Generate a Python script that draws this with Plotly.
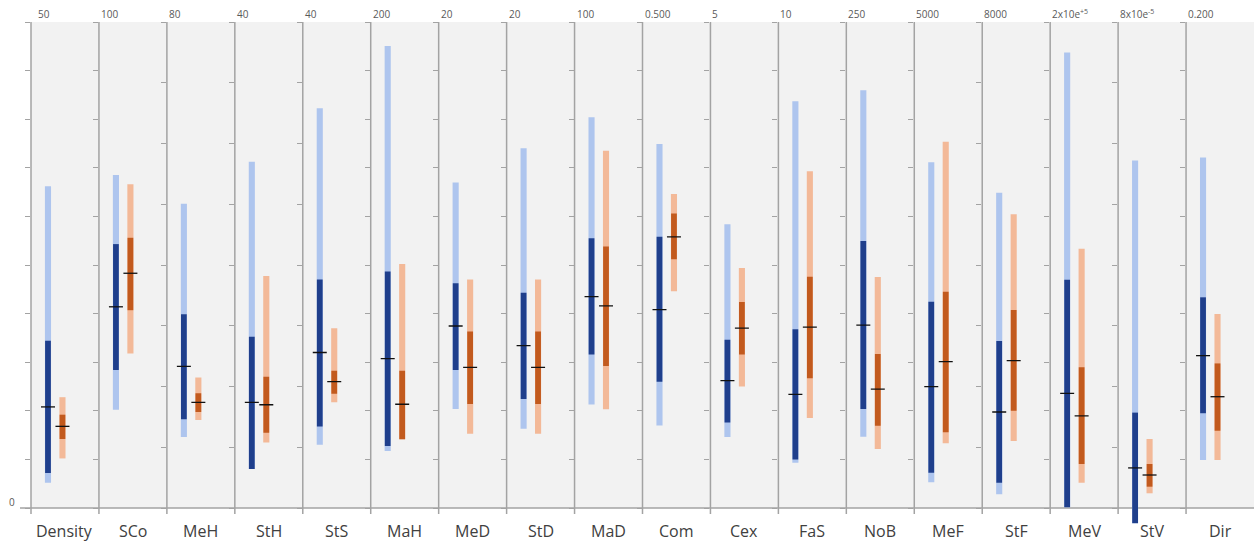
import plotly.graph_objects as go
from plotly.subplots import make_subplots

# Variables, one panel each
categories = ["Density", "SCo", "MeH", "StH", "StS", "MaH", "MeD", "StD", "MaD",
              "Com", "Cex", "FaS", "NoB", "MeF", "StF", "MeV", "StV", "Dir"]

# Upper limit of each panel's vertical scale and its printed label
axis_max = [50, 100, 80, 40, 40, 200, 20, 20, 100, 0.5, 5, 10, 250, 5000, 8000, 2e5, 8e-5, 0.2]
max_labels = ["50", "100", "80", "40", "40", "200", "20", "20", "100", "0.500", "5", "10",
              "250", "5000", "8000", "2x10e<sup>+5</sup>", "8x10e<sup>-5</sup>", "0.200"]
tick_step = [5, 10, 10, 5, 5, 20, 2, 2, 10, 0.05, 0.5, 1, 25, 500, 1000, 2e4, 1e-5, 0.02]

# Group A (blue): min, lower quartile, median, upper quartile, max
a_min = [2.6, 20.2, 11.7, 3.2, 5.2, 23.5, 4.07, 3.26, 21.3, 0.085, 0.73, 0.93, 36.7,
         264, 225, 300, -0.25e-5, 0.0198]
a_q1 = [3.6, 28.4, 14.6, 3.2, 6.7, 25.5, 5.68, 4.49, 31.6, 0.130, 0.88, 1.0, 50.9,
        363, 417, 300, -0.25e-5, 0.039]
a_med = [10.4, 41.4, 23.3, 8.7, 12.8, 61.5, 7.49, 6.68, 43.5, 0.204, 1.31, 2.34, 94.1,
         1248, 1580, 47200, 0.66e-5, 0.0627]
a_q3 = [17.2, 54.3, 31.9, 14.1, 18.8, 97.3, 9.25, 8.86, 55.5, 0.279, 1.73, 3.68, 137.3,
        2122, 2749, 93950, 1.57e-5, 0.0867]
a_max = [33.1, 68.5, 50.1, 28.5, 32.9, 190.1, 13.4, 14.8, 80.4, 0.3745, 2.92, 8.37, 214.9,
         3556, 5190, 187500, 5.72e-5, 0.1442]

# Group B (orange): min, lower quartile, median, upper quartile, max
b_min = [5.1, 31.8, 14.5, 5.4, 8.7, 28.3, 3.06, 3.06, 20.3, 0.223, 1.25, 1.85, 30.3,
         666, 1103, 10400, 0.242e-5, 0.0198]
b_q1 = [7.1, 40.7, 15.8, 6.2, 9.4, 28.3, 4.28, 4.28, 29.2, 0.256, 1.58, 2.67, 42.3,
        779, 1602, 18100, 0.351e-5, 0.0318]
b_med = [8.4, 48.3, 17.4, 8.5, 10.4, 42.7, 5.79, 5.79, 41.6, 0.279, 1.85, 3.72, 61.2,
         1505, 2425, 37900, 0.543e-5, 0.0458]
b_q3 = [9.6, 55.6, 18.9, 10.8, 11.3, 56.5, 7.26, 7.26, 53.8, 0.303, 2.12, 4.76, 79.2,
        2226, 3259, 57900, 0.724e-5, 0.0595]
b_max = [11.4, 66.6, 21.5, 19.1, 14.8, 100.4, 9.4, 9.4, 73.5, 0.323, 2.47, 6.93, 118.8,
         3769, 4835, 106700, 1.136e-5, 0.0798]

W, H = 1254, 544
M_L, M_R, M_T, M_B = 31, 0, 22, 20
PLOT_W = W - M_L - M_R
PLOT_H = H - M_T - M_B          # 502 px
BASE_PX = 486                    # px between zero line and top of each scale
BELOW_PX = PLOT_H - BASE_PX      # room under the zero line

GRAY_BG = "#f2f2f2"
AXIS_COL = "#a3a3a3"
A_LIGHT, A_DARK = "#aec5ee", "#1f3f8c"
B_LIGHT, B_DARK = "#f3b998", "#c25a1e"

n = len(categories)
fig = make_subplots(rows=1, cols=n, horizontal_spacing=0)

groups = [
    (0.25, a_min, a_q1, a_med, a_q3, a_max, A_LIGHT, A_DARK),
    (0.463, b_min, b_q1, b_med, b_q3, b_max, B_LIGHT, B_DARK),
]

shapes = []
annotations = []
for i in range(n):
    col = i + 1
    sfx = "" if i == 0 else str(col)
    top = axis_max[i]
    for xpos, lo, q1, med, q3, hi, light, dark in groups:
        fig.add_trace(go.Bar(x=[xpos], base=[lo[i]], y=[hi[i] - lo[i]], width=[0.09],
                             marker=dict(color=light, line=dict(width=0)),
                             showlegend=False, hoverinfo="skip"), row=1, col=col)
        fig.add_trace(go.Bar(x=[xpos], base=[q1[i]], y=[q3[i] - q1[i]], width=[0.085],
                             marker=dict(color=dark, line=dict(width=0)),
                             showlegend=False, hoverinfo="skip"), row=1, col=col)
        fig.add_trace(go.Scatter(x=[xpos], y=[med[i]], mode="markers",
                                 marker=dict(symbol="line-ew", size=10,
                                             line=dict(color="#111111", width=1.3)),
                                 showlegend=False, hoverinfo="skip"), row=1, col=col)

    # contiguous, non-overlapping panel domains
    fig.layout[f"xaxis{sfx}"].domain = [i / n, (i + 1) / n]
    fig.update_xaxes(range=[0, 1], visible=False, row=1, col=col)
    fig.update_yaxes(range=[-top * BELOW_PX / BASE_PX, top], tick0=0, dtick=tick_step[i],
                     ticks="outside", ticklen=5, tickwidth=1.2, tickcolor=AXIS_COL,
                     showticklabels=False, showgrid=False, zeroline=False, showline=False,
                     row=1, col=col)

    # shaded panel and its vertical axis line
    shapes.append(dict(type="rect", xref=f"x{sfx} domain", yref=f"y{sfx}",
                       x0=0, x1=1, y0=0, y1=top, fillcolor=GRAY_BG,
                       line=dict(width=0), layer="below"))
    shapes.append(dict(type="line", xref=f"x{sfx} domain", yref=f"y{sfx}",
                       x0=0, x1=0, y0=-top * 6 / BASE_PX, y1=top,
                       line=dict(color=AXIS_COL, width=1.5), layer="below"))

    annotations.append(dict(text=max_labels[i], xref=f"x{sfx} domain", yref="paper",
                            x=0, y=1, yshift=8, xshift=5 if i == 0 else 0,
                            xanchor="left", yanchor="middle", showarrow=False,
                            font=dict(family="Open Sans", size=10, color="#595959")))
    annotations.append(dict(text=categories[i], xref=f"x{sfx} domain", yref="paper",
                            x=0.5, y=0, yshift=-7, xanchor="center", yanchor="middle",
                            showarrow=False,
                            font=dict(family="Open Sans", size=16, color="#404040")))

# zero line running under all panels
shapes.append(dict(type="line", xref="paper", yref="y", x0=-11 / PLOT_W, x1=1,
                   y0=0, y1=0, line=dict(color=AXIS_COL, width=1.5), layer="below"))

annotations.append(dict(text="0", xref="paper", yref="y", x=-19 / PLOT_W, y=0,
                        yshift=6, xanchor="center", yanchor="middle", showarrow=False,
                        font=dict(family="Open Sans", size=10, color="#595959")))

fig.update_layout(
    width=W, height=H,
    margin=dict(l=M_L, r=M_R, t=M_T, b=M_B),
    barmode="overlay",
    plot_bgcolor="rgba(0,0,0,0)", paper_bgcolor="white",
    shapes=shapes, annotations=annotations,
)

fig.write_html("out.html")
